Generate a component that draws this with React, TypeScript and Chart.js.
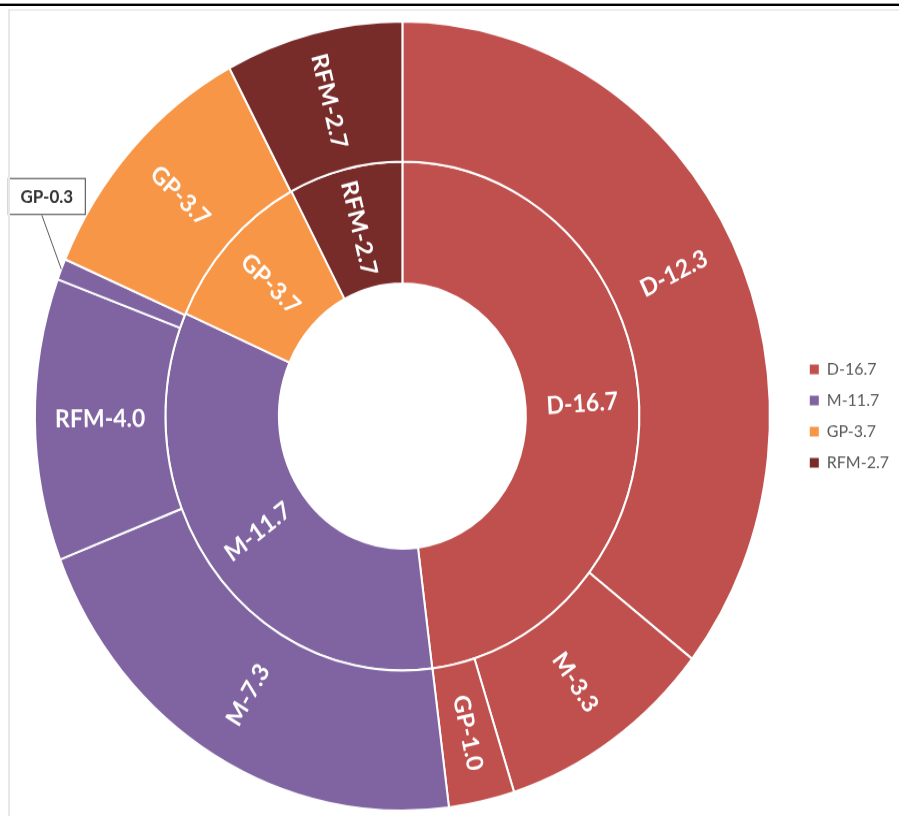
import React, { useEffect, useRef } from 'react';
import { Chart, registerables } from 'chart.js';

Chart.register(...registerables);

// ---- data ----
const innerCategories = ['D', 'M', 'GP', 'RFM'];
const innerValues = [16.7, 11.7, 3.7, 2.7];

const outerCategories = ['D', 'M', 'GP', 'M', 'RFM', 'GP', 'GP', 'RFM'];
const outerValues = [12.3, 3.3, 1.0, 7.3, 4.0, 0.3, 3.7, 2.7];
const outerParents = ['D', 'D', 'D', 'M', 'M', 'M', 'GP', 'RFM'];

const calloutLabels = ['GP-0.3'];

const categoryColors: Record<string, string> = {
  D: '#C0504D',
  M: '#8064A2',
  GP: '#F79646',
  RFM: '#772C2A',
};

const innerLabels = innerCategories.map((c, i) => `${c}-${innerValues[i].toFixed(1)}`);
const outerLabels = outerCategories.map((c, i) => `${c}-${outerValues[i].toFixed(1)}`);

const STRETCH = 816 / 760;
const LEGEND_FONT = 16;
const LEGEND_PAD = 13;
const LEGEND_BOX = 9;

const segmentLabels = {
  id: 'segmentLabels',
  afterDatasetsDraw(chart: any) {
    const ctx = chart.ctx as CanvasRenderingContext2D;
    const sets = [
      { labels: outerLabels, meta: chart.getDatasetMeta(0) },
      { labels: innerLabels, meta: chart.getDatasetMeta(1) },
    ];
    ctx.save();
    sets.forEach(({ labels, meta }) => {
      meta.data.forEach((arc: any, i: number) => {
        const text = labels[i];
        const p = arc.getProps(['x', 'y', 'startAngle', 'endAngle', 'innerRadius', 'outerRadius'], true);
        const a = (p.startAngle + p.endAngle) / 2;
        if (calloutLabels.includes(text)) {
          const px = p.x + Math.cos(a) * p.outerRadius;
          const py = p.y + Math.sin(a) * p.outerRadius;
          const ax = px - 19.5;
          const ay = py - 50.5;
          ctx.strokeStyle = '#595959';
          ctx.lineWidth = 1;
          ctx.beginPath();
          ctx.moveTo(px, py);
          ctx.lineTo(ax, ay);
          ctx.stroke();
          const bx = ax - 34;
          const bw = 78;
          const bh = 34.5;
          const by = ay - bh;
          ctx.fillStyle = '#ffffff';
          ctx.fillRect(bx, by, bw, bh);
          ctx.strokeStyle = '#404040';
          ctx.strokeRect(bx + 0.5, by + 0.5, bw - 1, bh - 1);
          ctx.fillStyle = '#333333';
          ctx.font = 'bold 17px Lato';
          ctx.textAlign = 'center';
          ctx.textBaseline = 'middle';
          ctx.fillText(text, bx + bw / 2, by + bh / 2 + 1);
          return;
        }
        const r = (p.innerRadius + p.outerRadius) / 2;
        ctx.save();
        ctx.translate(p.x + Math.cos(a) * r, p.y + Math.sin(a) * r);
        ctx.rotate(Math.cos(a) >= -1e-9 ? a : a + Math.PI);
        ctx.fillStyle = '#ffffff';
        ctx.font = 'bold 23px Lato';
        ctx.textAlign = 'center';
        ctx.textBaseline = 'middle';
        ctx.fillText(text, 0, 0);
        ctx.restore();
      });
    });
    ctx.restore();
  },
};

export default function App() {
  const ref = useRef<HTMLCanvasElement>(null);

  useEffect(() => {
    if (!ref.current) return;
    // measure legend width so the doughnut centre lands where intended
    const mc = document.createElement('canvas').getContext('2d')!;
    mc.font = `${LEGEND_FONT}px Lato`;
    const maxText = Math.max(...innerLabels.map((t) => mc.measureText(t).width));
    const legendW = LEGEND_PAD + LEGEND_BOX + LEGEND_FONT / 2 + maxText + 10;
    const legendLeft = 799;
    const padRight = Math.max(0, 899 - legendLeft - legendW);
    const centerX = 403.5;
    const padLeft = 2 * centerX - legendLeft;

    const chart = new Chart(ref.current, {
      type: 'doughnut',
      data: {
        labels: innerLabels,
        datasets: [
          {
            data: outerValues,
            backgroundColor: outerParents.map((p) => categoryColors[p]),
            borderColor: '#ffffff',
            borderWidth: 2,
            weight: 1.15,
          } as any,
          {
            data: innerValues,
            backgroundColor: innerCategories.map((c) => categoryColors[c]),
            borderColor: '#ffffff',
            borderWidth: 2,
            weight: 1,
          } as any,
        ],
      },
      options: {
        responsive: false,
        animation: false,
        cutout: '33.6%',
        layout: { padding: { top: 19, bottom: 4, left: padLeft, right: padRight } },
        plugins: {
          tooltip: { enabled: false },
          legend: {
            position: 'right',
            align: 'center',
            labels: {
              boxWidth: LEGEND_BOX,
              boxHeight: LEGEND_BOX,
              padding: LEGEND_PAD,
              color: '#595959',
              font: { family: 'Lato', size: LEGEND_FONT },
              generateLabels: () =>
                innerLabels.map((t, i) => ({
                  text: t,
                  fillStyle: categoryColors[innerCategories[i]],
                  strokeStyle: categoryColors[innerCategories[i]],
                  lineWidth: 0,
                  hidden: false,
                  index: i,
                  fontColor: '#595959',
                })),
            },
          },
        },
      },
      plugins: [segmentLabels],
    });
    return () => chart.destroy();
  }, []);

  return (
    <div
      style={{
        position: 'absolute',
        left: 0,
        top: 0,
        width: 899,
        height: 816,
        overflow: 'hidden',
        background: '#ffffff',
      }}
    >
      <div
        style={{
          position: 'absolute',
          left: 0,
          top: 0,
          width: 899,
          height: 760,
          transform: `scaleY(${STRETCH})`,
          transformOrigin: '0 0',
        }}
      >
        <canvas ref={ref} width={899} height={760} style={{ width: 899, height: 760, display: 'block' }} />
      </div>
      <div style={{ position: 'absolute', left: 0, top: 3, width: 899, height: 1, background: '#999999' }} />
      <div style={{ position: 'absolute', left: 0, top: 4, width: 899, height: 2, background: '#000000' }} />
      <div style={{ position: 'absolute', left: 8, top: 9, width: 891, height: 2, background: '#eeeeee' }} />
      <div style={{ position: 'absolute', left: 8, top: 9, width: 2, height: 807, background: '#e8e8e8' }} />
    </div>
  );
}
